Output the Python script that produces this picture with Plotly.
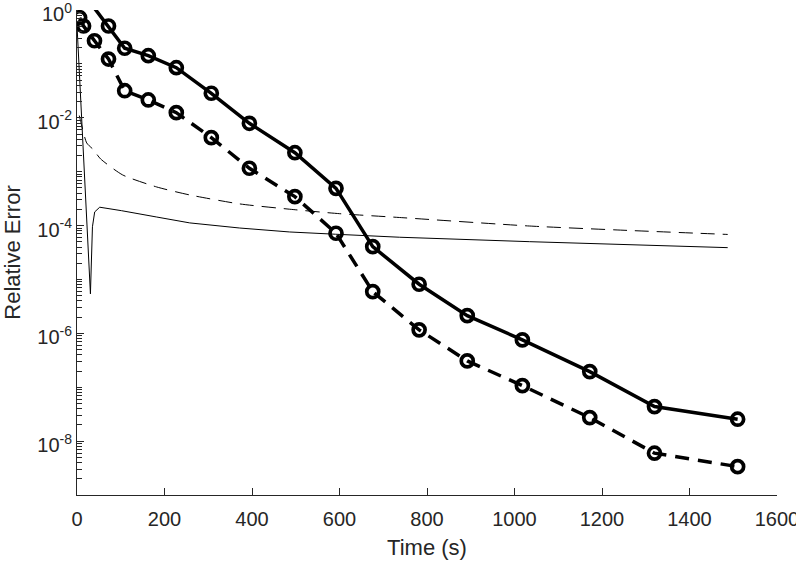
import plotly.graph_objects as go

# Thick curves (markers)
t_solid = [15, 72, 109, 163, 227, 307, 394, 498, 592, 676, 782, 892, 1018, 1172, 1320, 1510]
err_solid = [2.0, 0.505, 0.195, 0.142, 0.085, 0.0285, 0.0079, 0.00225, 4.9e-4, 4.06e-5,
             8.15e-6, 2.13e-6, 7.55e-7, 1.95e-7, 4.37e-8, 2.55e-8]

t_dashed = [6, 15, 40, 72, 109, 163, 227, 307, 394, 498, 592, 676, 782, 892, 1018, 1172, 1320, 1510]
err_dashed = [0.72, 0.505, 0.269, 0.123, 0.0318, 0.0214, 0.01245, 0.00428, 0.001157, 3.44e-4,
              7.2e-5, 5.94e-6, 1.16e-6, 3.08e-7, 1.07e-7, 2.73e-8, 5.97e-9, 3.36e-9]

# Thin curves
t_thin_solid = [0.5, 7.8, 19.2, 30.7, 35.3, 40.4, 51.9, 59.4, 101.5, 182.2, 257.6, 371.9, 486.2,
                591.3, 737.6, 1034.8, 1263.3, 1487.3]
err_thin_solid = [0.43, 0.0243, 3.7e-4, 5.4e-6, 9.5e-5, 1.79e-4, 2.19e-4, 2.15e-4, 1.89e-4,
                  1.44e-4, 1.12e-4, 9.0e-5, 7.6e-5, 6.9e-5, 6.07e-5, 5.02e-5, 4.46e-5, 3.89e-5]

t_thin_dashed = [5.3, 8.5, 22.2, 36.6, 54.1, 104.4, 182.2, 257.6, 371.9, 486.2, 600.5, 737.6,
                 1034.8, 1263.3, 1487.3]
err_thin_dashed = [1.1e-2, 8.5e-3, 3.41e-3, 2.6e-3, 1.72e-3, 8.69e-4, 5.2e-4, 3.70e-4, 2.52e-4,
                   2.01e-4, 1.66e-4, 1.41e-4, 9.8e-5, 8.1e-5, 6.84e-5]

x_ticks = [0, 200, 400, 600, 800, 1000, 1200, 1400, 1600]
y_ticks = [1e-8, 1e-6, 1e-4, 1e-2, 1e0]
y_ticktext = ["10<sup>-8</sup>", "10<sup>-6</sup>", "10<sup>-4</sup>", "10<sup>-2</sup>", "10<sup>0</sup>"]

minor_vals = [m * 10.0 ** k for k in range(-9, 0) for m in range(1, 10)
              if not (m == 1 and k % 2 == 0)]

ink = "#262626"
fig = go.Figure()
fig.add_trace(go.Scatter(x=t_thin_solid, y=err_thin_solid, mode="lines",
                         line=dict(color="black", width=1), showlegend=False))
fig.add_trace(go.Scatter(x=t_thin_dashed, y=err_thin_dashed, mode="lines",
                         line=dict(color="black", width=1, dash="14px,8px", shape="spline",
                                   smoothing=0.6),
                         showlegend=False))
fig.add_trace(go.Scatter(x=t_solid, y=err_solid, mode="lines+markers",
                         line=dict(color="black", width=3.5),
                         marker=dict(symbol="circle-open", size=12, color="black",
                                     line=dict(width=3.7, color="black")),
                         showlegend=False))
fig.add_trace(go.Scatter(x=t_dashed, y=err_dashed, mode="lines+markers",
                         line=dict(color="black", width=3.5, dash="14px,9px"),
                         marker=dict(symbol="circle-open", size=12, color="black",
                                     line=dict(width=3.7, color="black")),
                         showlegend=False))

fig.update_layout(
    width=796, height=565,
    margin=dict(l=77, r=19, t=10, b=70, autoexpand=False),
    paper_bgcolor="white", plot_bgcolor="white",
    font=dict(family="Liberation Sans, Arial, sans-serif", size=20, color=ink),
    xaxis=dict(range=[0, 1600], tickvals=x_ticks, ticks="inside", ticklen=7,
               tickcolor=ink, showline=True, linecolor=ink, linewidth=1,
               showgrid=False, zeroline=False, ticklabeloverflow="allow",
               ticklabelstandoff=6, automargin=False,
               title=dict(text="Time (s)", font=dict(size=22), standoff=10)),
    yaxis=dict(type="log", range=[-9, 0], tickvals=y_ticks, ticktext=y_ticktext,
               ticks="inside", ticklen=7, tickcolor=ink, showline=True, linecolor=ink,
               linewidth=1, showgrid=False, zeroline=False, ticklabeloverflow="allow",
               automargin=False, ticklabelshift=4,
               minor=dict(tickvals=minor_vals, ticks="inside", ticklen=5, tickcolor=ink,
                          showgrid=False),
               title=dict(text="Relative Error", font=dict(size=22), standoff=10)),
)

fig.write_html("out.html")
